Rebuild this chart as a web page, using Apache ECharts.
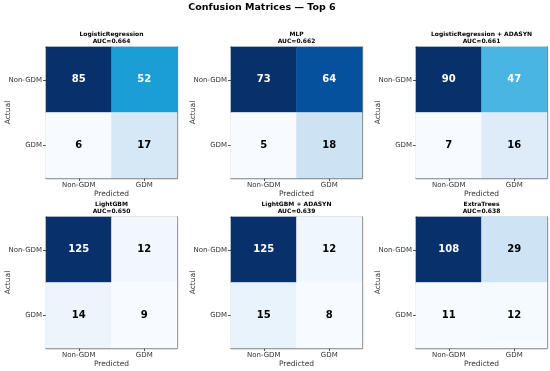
<!DOCTYPE html>
<html><head><meta charset="utf-8">
<script src="https://cdn.jsdelivr.net/npm/echarts@6/dist/echarts.min.js"></script>
<style>html,body{margin:0;padding:0;background:#fff}#c{width:550px;height:371px}</style>
</head><body><div id="c"></div>
<script>
const mainTitle = 'Confusion Matrices — Top 6';
const models = ['LogisticRegression', 'MLP', 'LogisticRegression + ADASYN', 'LightGBM', 'LightGBM + ADASYN', 'ExtraTrees'];
const aucs = ['0.664', '0.662', '0.661', '0.650', '0.639', '0.638'];
const classLabels = ['Non-GDM', 'GDM'];
// rows = actual [Non-GDM, GDM], cols = predicted [Non-GDM, GDM]
const cmLogReg = [[85, 52], [6, 17]];
const cmMLP = [[73, 64], [5, 18]];
const cmLogRegAdasyn = [[90, 47], [7, 16]];
const cmLightGBM = [[125, 12], [14, 9]];
const cmLightGBMAdasyn = [[125, 12], [15, 8]];
const cmExtraTrees = [[108, 29], [11, 12]];
const matrices = [cmLogReg, cmMLP, cmLogRegAdasyn, cmLightGBM, cmLightGBMAdasyn, cmExtraTrees];

const blues = ['#f7fbff', '#d9eaf7', '#c2dcf0', '#8ccbe8', '#3db2df', '#0a94d0', '#0a6fb8', '#064f9c', '#08306b'];
const FONT = 'DejaVu Sans';
const colX = [46, 231, 416], rowY = [47, 217], W = 131, H = 131;

const grids = [], xAxes = [], yAxes = [], series = [], visualMaps = [], titles = [];
titles.push({text: mainTitle, left: 262, top: 3, padding: 0, textAlign: 'center',
  textStyle: {fontFamily: FONT, fontSize: 9.5, fontWeight: 'bold', color: '#000'}});

matrices.forEach((m, i) => {
  const cx = colX[i % 3], cy = rowY[Math.floor(i / 3)];
  grids.push({left: cx, top: cy, width: W, height: H, containLabel: false, outerBoundsMode: 'none'});
  titles.push({text: models[i] + '\nAUC=' + aucs[i], left: cx + W / 2, top: cy - 16, padding: 0, textAlign: 'center',
    textStyle: {fontFamily: FONT, fontSize: 6, fontWeight: 'bold', color: '#000', lineHeight: 7}});
  const flat = [].concat(...m);
  const mx = Math.max(...flat), mn = Math.min(...flat);
  const data = [];
  m.forEach((row, r) => row.forEach((v, c) => data.push([c, r, v])));
  const frame = {show: true, lineStyle: {color: '#808080', width: 1.3}};
  xAxes.push({type: 'category', gridIndex: i, data: classLabels, position: 'bottom',
    name: 'Predicted', nameLocation: 'middle', nameGap: 12, nameMoveOverlap: false,
    nameTextStyle: {fontFamily: FONT, fontSize: 7.5, color: '#333'},
    axisLine: frame, axisTick: {show: true, alignWithLabel: true, length: 3, lineStyle: {color: '#555'}},
    axisLabel: {fontFamily: FONT, fontSize: 7, color: '#333', margin: 4}, splitLine: {show: false}});
  yAxes.push({type: 'category', gridIndex: i, data: classLabels, inverse: true, position: 'left',
    name: 'Actual', nameLocation: 'middle', nameGap: 34, nameRotate: 90, nameMoveOverlap: false,
    nameTextStyle: {fontFamily: FONT, fontSize: 7.5, color: '#333'},
    axisLine: frame, axisTick: {show: true, alignWithLabel: true, length: 3, lineStyle: {color: '#555'}},
    axisLabel: {fontFamily: FONT, fontSize: 7, color: '#333', margin: 4}, splitLine: {show: false}});
  xAxes.push({type: 'category', gridIndex: i, data: classLabels, position: 'top',
    axisLine: frame, axisTick: {show: false}, axisLabel: {show: false}, splitLine: {show: false}});
  yAxes.push({type: 'category', gridIndex: i, data: classLabels, inverse: true, position: 'right',
    axisLine: frame, axisTick: {show: false}, axisLabel: {show: false}, splitLine: {show: false}});
  const thr = mx / 2;
  series.push({type: 'heatmap', xAxisIndex: 2 * i, yAxisIndex: 2 * i, data: data, z: 1,
    label: {show: true, fontFamily: FONT, fontSize: 10, fontWeight: 'bold',
      formatter: p => (p.value[2] > thr ? '{w|' : '{b|') + p.value[2] + '}',
      rich: {w: {color: '#fff', fontFamily: FONT, fontSize: 10, fontWeight: 'bold'},
             b: {color: '#000', fontFamily: FONT, fontSize: 10, fontWeight: 'bold'}}},
    itemStyle: {borderWidth: 0}, emphasis: {disabled: true}});
  visualMaps.push({type: 'continuous', show: false, seriesIndex: i, min: mn, max: mx, dimension: 2,
    inRange: {color: blues}});
});

const chart = echarts.init(document.getElementById('c'), null, {renderer: 'canvas'});
chart.setOption({animation: false, backgroundColor: '#fff', title: titles, grid: grids,
  xAxis: xAxes, yAxis: yAxes, visualMap: visualMaps, series: series});
</script></body></html>
